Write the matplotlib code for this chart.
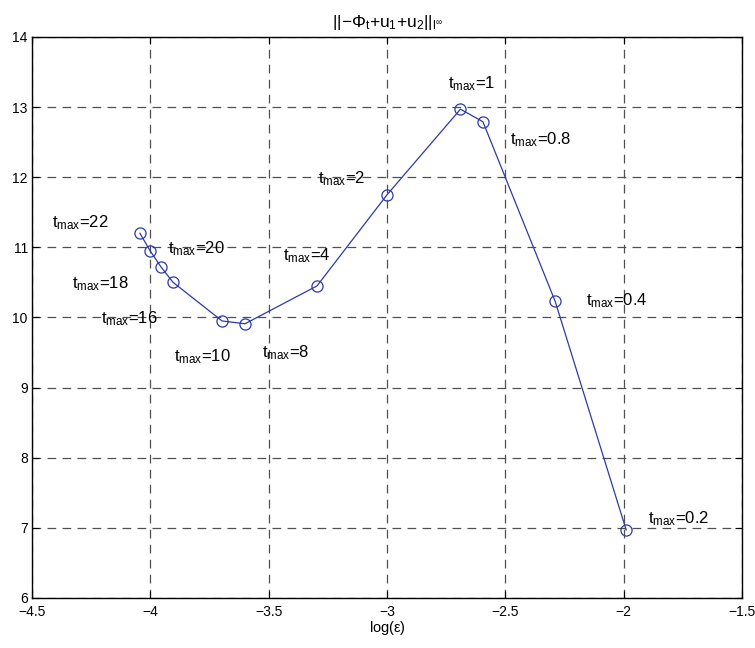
import matplotlib
matplotlib.use("Agg")
import matplotlib.pyplot as plt

plt.rcParams['font.family'] = ['Liberation Sans', 'DejaVu Sans']
plt.rcParams['mathtext.fontset'] = 'custom'
plt.rcParams['mathtext.rm'] = 'Liberation Sans'
plt.rcParams['mathtext.it'] = 'Liberation Sans'
plt.rcParams['mathtext.bf'] = 'Liberation Sans:bold'

log_eps = [-4.044, -4.001, -3.955, -3.904, -3.697, -3.600, -3.296, -3.000, -2.690, -2.595, -2.290, -1.990]
norm = [11.20, 10.95, 10.72, 10.50, 9.95, 9.91, 10.45, 11.75, 12.97, 12.79, 10.23, 6.97]
tmax_labels = ['22', '20', '18', '16', '10', '8', '4', '2', '1', '0.8', '0.4', '0.2']
label_x = [-4.415, -3.924, -4.33, -4.207, -3.899, -3.527, -3.438, -3.29, -2.741, -2.479, -2.159, -1.897]
label_y = [11.28, 10.92, 10.42, 9.91, 9.37, 9.43, 10.82, 11.92, 13.27, 12.47, 10.17, 7.07]

fig = plt.figure(figsize=(7.55, 6.48), dpi=100)
ax = fig.add_axes([0.0424, 0.0772, 0.9406, 0.8658])

ax.plot(log_eps, norm, color='#2d3aa8', lw=0.9, marker='o', markersize=8,
        markerfacecolor='none', markeredgecolor='#2d3aa8', markeredgewidth=0.9, zorder=3)

for x, y, t in zip(label_x, label_y, tmax_labels):
    ax.text(x, y, r'$\mathrm{t_{max}}$=' + t, fontsize=12, ha='left', va='baseline', zorder=4)

ax.set_xlim(-4.5, -1.5)
ax.set_ylim(6, 14)
ax.set_xticks([-4.5, -4, -3.5, -3, -2.5, -2, -1.5])
ax.set_xticklabels(['\u22124.5', '\u22124', '\u22123.5', '\u22123', '\u22122.5', '\u22122', '\u22121.5'])
ax.set_yticks(range(6, 15))
ax.grid(True, color='#505050', linestyle=(0, (7, 5)), linewidth=0.9)
ax.tick_params(direction='in', top=True, right=True, labelsize=10, length=5, pad=3)
ax.tick_params(axis='x', pad=5)
for s in ax.spines.values():
    s.set_linewidth(1.0)

ax.set_xlabel(r'log($\mathrm{\varepsilon}$)', fontsize=10.5, labelpad=0)
ax.set_title(r'$\mathrm{||{-}\Phi_t{+}u_1{+}u_2||_{l^{\infty}}}$', fontsize=12.5, pad=7)

fig.savefig('out.png', dpi=100)
